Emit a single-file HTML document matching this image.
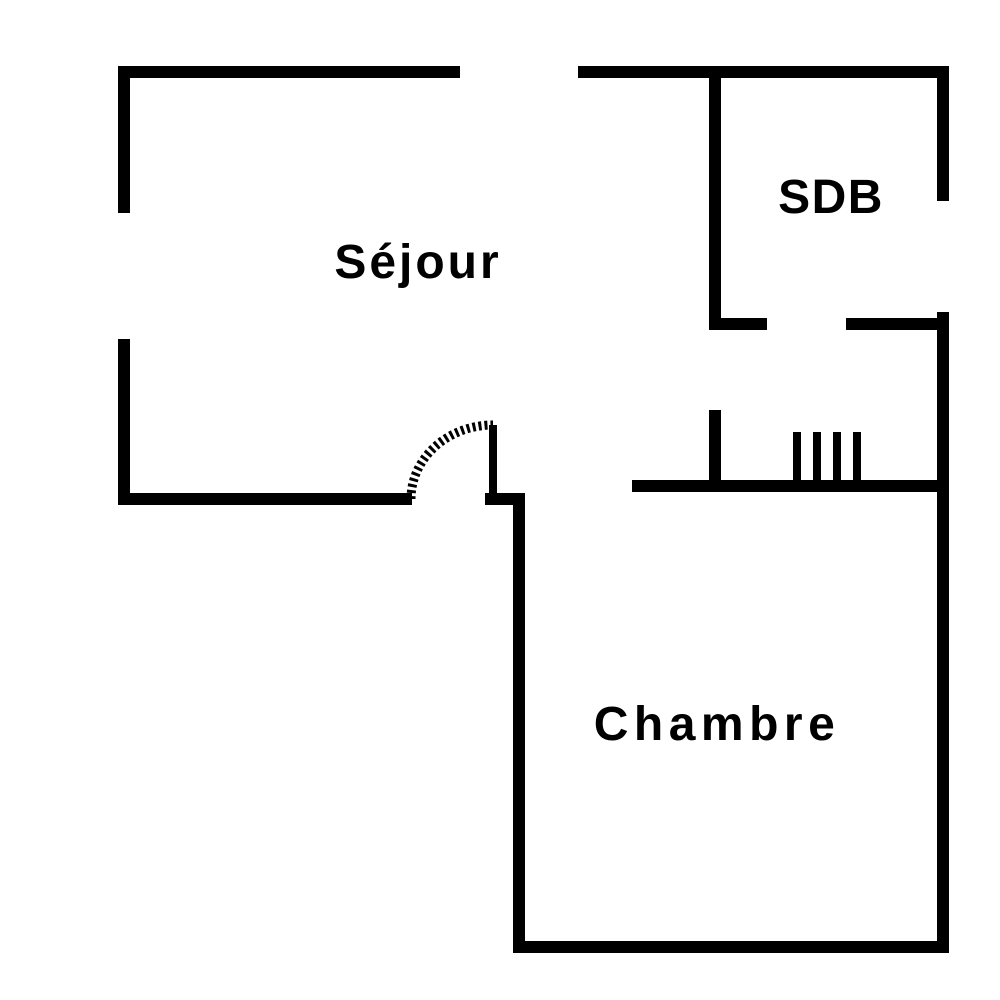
<!DOCTYPE html>
<html><head><meta charset="utf-8"><style>
html,body{margin:0;padding:0;background:#fff;}
svg{display:block;}
text{font-family:"Liberation Sans",sans-serif;font-weight:bold;font-size:48px;fill:#000;}
</style></head><body>
<svg width="1000" height="1000" viewBox="0 0 1000 1000" xmlns="http://www.w3.org/2000/svg">
<g fill="#000">
<rect x="118" y="66" width="342" height="12"/>
<rect x="118" y="66" width="12" height="147"/>
<rect x="118" y="339" width="12" height="166"/>
<rect x="118" y="493" width="294" height="12"/>
<rect x="489" y="425" width="8" height="74"/>
<rect x="485" y="493" width="40" height="12"/>
<rect x="513" y="493" width="12" height="460"/>
<rect x="513" y="941" width="436" height="12"/>
<rect x="937" y="312" width="12" height="641"/>
<rect x="578" y="66" width="371" height="12"/>
<rect x="709" y="66" width="12" height="264"/>
<rect x="937" y="66" width="12" height="135"/>
<rect x="709" y="318" width="58" height="12"/>
<rect x="846" y="318" width="103" height="12"/>
<rect x="632" y="480" width="317" height="12"/>
<rect x="709" y="410" width="12" height="76"/>
<rect x="793" y="432" width="8" height="50"/>
<rect x="813" y="432" width="8" height="50"/>
<rect x="833" y="432" width="8" height="50"/>
<rect x="853" y="432" width="8" height="50"/>
</g>
<path d="M411 499 A82 74 0 0 1 493 425" fill="none" stroke="#000" stroke-width="9" stroke-dasharray="3 3"/>
<text x="418" y="278" text-anchor="middle" letter-spacing="3">Séjour</text>
<text x="831" y="213" text-anchor="middle" letter-spacing="1.5">SDB</text>
<text x="717" y="740" text-anchor="middle" letter-spacing="5.5">Chambre</text>
</svg>
</body></html>
